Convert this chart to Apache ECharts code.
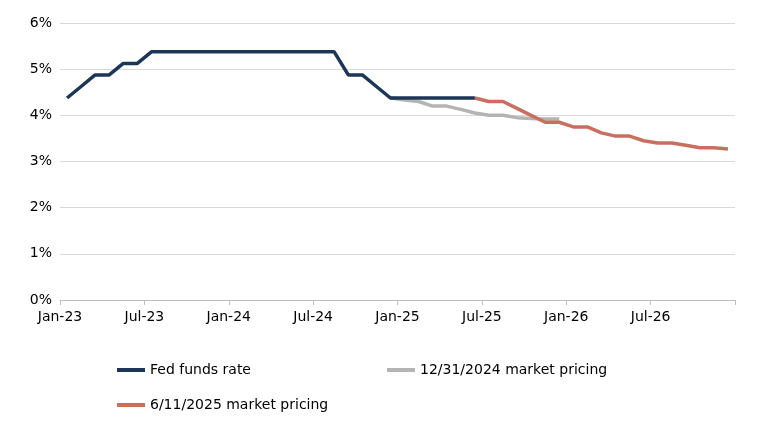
<!DOCTYPE html>
<html>
<head>
<meta charset="utf-8">
<script src="https://cdn.jsdelivr.net/npm/echarts@6/dist/echarts.min.js"></script>
<style>
    html, body { margin: 0; padding: 0; background: #fff; }
    #chart { width: 757px; height: 428px; }
</style>
</head>
<body>
<div id="chart"></div>
<script>
    var monNames = ['Jan', 'Feb', 'Mar', 'Apr', 'May', 'Jun', 'Jul', 'Aug', 'Sep', 'Oct', 'Nov', 'Dec'];
    // Jan-23 .. Jun-25
    var fedFunds = [4.375, 4.625, 4.875, 4.875, 5.125, 5.125, 5.375, 5.375, 5.375, 5.375, 5.375, 5.375,
        5.375, 5.375, 5.375, 5.375, 5.375, 5.375, 5.375, 5.375, 4.875, 4.875, 4.625, 4.375,
        4.375, 4.375, 4.375, 4.375, 4.375, 4.375];
    // Dec-24 .. Dec-25
    var pricing2024 = [4.375, 4.33, 4.3, 4.2, 4.2, 4.13, 4.05, 4.0, 4.0, 3.95, 3.93, 3.92, 3.92];
    // Jun-25 .. Dec-26
    var pricing2025 = [4.375, 4.3, 4.3, 4.15, 4.0, 3.85, 3.85, 3.75, 3.75, 3.62, 3.55, 3.55,
        3.45, 3.4, 3.4, 3.35, 3.3, 3.3, 3.27];

    // month index from Jan-23, plotted at mid-month
    function place(vals, start) {
        return vals.map(function (v, i) { return [start + i + 0.5, v]; });
    }
    function monthLabel(idx) {
        if (idx >= 48) return '';
        return monNames[idx % 12] + '-' + (23 + Math.floor(idx / 12));
    }

    var chart = echarts.init(document.getElementById('chart'));
    var font = 'DejaVu Sans';
    var legendBase = {
        itemWidth: 28, itemHeight: 4, icon: 'rect',
        textStyle: {fontFamily: font, fontSize: 14, color: '#000'}
    };
    chart.setOption({
        animation: false,
        grid: {left: 60, right: 22, top: 23, bottom: 128},
        legend: [
            Object.assign({data: ['Fed funds rate'], left: 112, top: 358}, legendBase),
            Object.assign({data: ['12/31/2024 market pricing'], left: 382, top: 358}, legendBase),
            Object.assign({data: ['6/11/2025 market pricing'], left: 112, top: 393}, legendBase)
        ],
        xAxis: {
            type: 'value', min: 0, max: 48, interval: 6,
            splitLine: {show: false},
            axisLine: {lineStyle: {color: '#bfbfbf'}},
            axisTick: {show: true, lineStyle: {color: '#bfbfbf'}},
            axisLabel: {formatter: monthLabel, fontFamily: font, fontSize: 14, color: '#000', margin: 10}
        },
        yAxis: {
            type: 'value', min: 0, max: 6, interval: 1,
            axisLine: {show: false},
            axisTick: {show: false},
            splitLine: {lineStyle: {color: '#d9d9d9'}},
            axisLabel: {formatter: '{value}%', fontFamily: font, fontSize: 14, color: '#000'}
        },
        series: [
            {name: '12/31/2024 market pricing', type: 'line', data: place(pricing2024, 23),
                symbol: 'none', lineStyle: {width: 3.5, color: '#b4b4b4'}, itemStyle: {color: '#b4b4b4'}},
            {name: '6/11/2025 market pricing', type: 'line', data: place(pricing2025, 29),
                symbol: 'none', lineStyle: {width: 3.5, color: '#c8705f'}, itemStyle: {color: '#c8705f'}},
            {name: 'Fed funds rate', type: 'line', data: place(fedFunds, 0),
                symbol: 'none', lineStyle: {width: 3.5, color: '#1c3657'}, itemStyle: {color: '#1c3657'}}
        ]
    });
</script>
</body>
</html>
